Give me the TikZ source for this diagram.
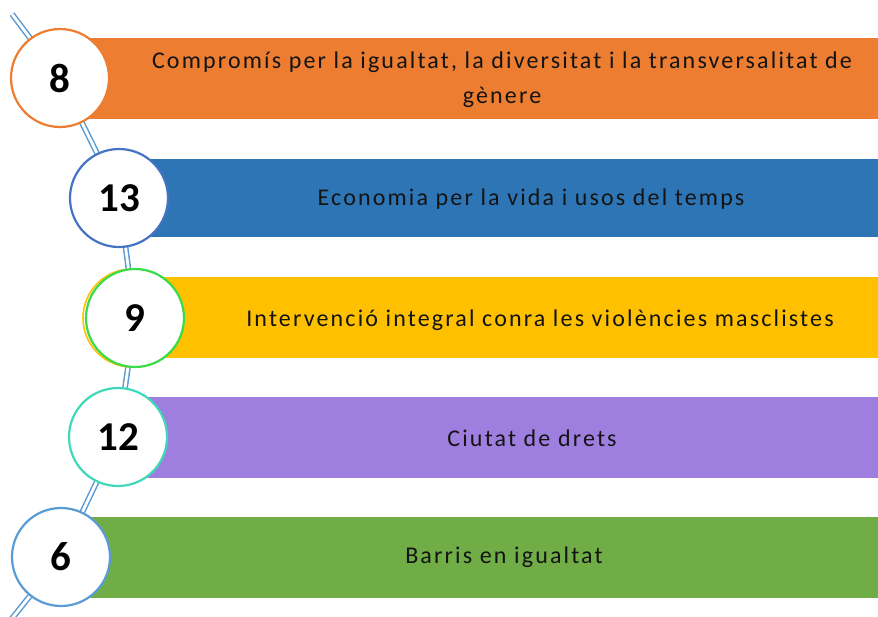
\documentclass[tikz,border=0pt]{standalone}
\usepackage{fontspec}
\setmainfont{Carlito}
\newfontfamily\barfont[LetterSpace=9]{Carlito}
\definecolor{cOrange}{HTML}{ED7D31}
\definecolor{cBlue}{HTML}{2E75B6}
\definecolor{cYellow}{HTML}{FFC000}
\definecolor{cPurple}{HTML}{9E7FE0}
\definecolor{cGreen}{HTML}{70AD47}
\definecolor{cLine}{HTML}{5B9BD5}
\definecolor{cDark}{HTML}{4472C4}
\definecolor{cLime}{HTML}{3ADB48}
\definecolor{cTeal}{HTML}{3FD9B9}
\definecolor{cText}{HTML}{141414}
\tikzset{
  numcircle/.style={circle, minimum size=49pt, inner sep=0pt, fill=white, line width=1.1pt, font=\fontsize{20.5}{22}\selectfont\bfseries},
  bartext/.style={font=\barfont\fontsize{12}{17.5}\selectfont, text=cText, align=center},
  link/.style={draw=cLine, line width=0.75pt, double=white, double distance=1.4pt}
}
\begin{document}
\begin{tikzpicture}[x=0.5pt,y=-0.5pt]
\useasboundingbox (0,0) rectangle (878,616);
% bars
\fill[cOrange] (60,38) rectangle (878,119);
\fill[cBlue] (119,159) rectangle (878,237);
\fill[cYellow] (136,277) rectangle (878,358);
\fill[cPurple] (118,397) rectangle (878,478);
\fill[cGreen] (61,517) rectangle (878,598);
% connector
\coordinate (start) at (12,14);
\coordinate (end) at (6,626);
\coordinate (p8) at (60,78);
\coordinate (p13) at (119,198);
\coordinate (p9) at (135,318);
\coordinate (p12) at (118,437);
\coordinate (p6) at (61,557);
\draw[link] (start) -- (p8) -- (p13) -- (p9) -- (p12) -- (p6) -- (end);
% circles
\node[numcircle, draw=cOrange] (c8) at (p8) {8};
\node[numcircle, draw=cDark] (c13) at (p13) {13};
\node[circle, minimum size=49pt, inner sep=0pt, fill=white, draw=cYellow, line width=0.8pt] (c9b) at (132,318) {};
\node[numcircle, draw=cLime] (c9) at (p9) {9};
\node[numcircle, draw=cTeal] (c12) at (p12) {12};
\node[numcircle, draw=cLine] (c6) at (p6) {6};
% texts
\node[bartext] (t8) at (502,80) {Compromís per la igualtat, la diversitat i la transversalitat de\\gènere};
\node[bartext] (t13) at (531,199) {Economia per la vida i usos del temps};
\node[bartext] (t9) at (540,320) {Intervenció integral conra les violències masclistes};
\node[bartext] (t12) at (532,438) {Ciutat de drets};
\node[bartext] (t6) at (504,557) {Barris en igualtat};
\end{tikzpicture}
\end{document}
